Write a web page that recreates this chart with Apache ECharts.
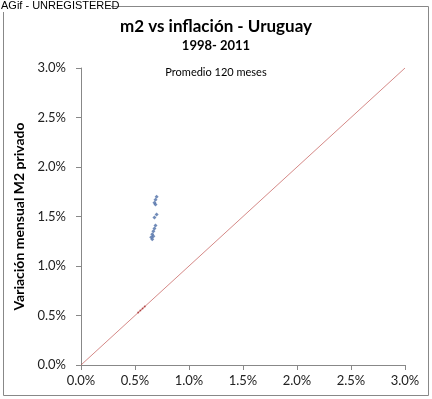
<!DOCTYPE html>
<html>
<head>
<meta charset="utf-8">
<script src="https://cdn.jsdelivr.net/npm/echarts@6/dist/echarts.min.js"></script>
<style>
  html, body { margin: 0; padding: 0; background: #fff; }
  #main { width: 432px; height: 399px; }
</style>
</head>
<body>
<div id="main"></div>
<script>
var tickLabels = ['0.0%', '0.5%', '1.0%', '1.5%', '2.0%', '2.5%', '3.0%'];

// promedio movil de inflacion mensual (x) vs variacion mensual de M2 privado (y)
var inflacion = [0.0070, 0.0069, 0.0068, 0.0069, 0.0070, 0.0068, 0.0069, 0.0068, 0.0067, 0.0066, 0.0065, 0.0066, 0.0067];
var m2Privado = [0.0170, 0.0167, 0.0164, 0.0162, 0.0152, 0.0149, 0.0141, 0.0138, 0.0135, 0.0132, 0.0129, 0.0127, 0.0130];

// linea de referencia y = x
var lineaX = [0, 0.03];
var lineaY = [0, 0.03];

// inflacion contra si misma (puntos sobre la diagonal)
var inflX = [0.0053, 0.0055, 0.0057, 0.0059];
var inflY = [0.0053, 0.0055, 0.0057, 0.0059];

function zip(a, b) {
  var out = [];
  for (var i = 0; i < a.length; i++) out.push([a[i], b[i]]);
  return out;
}
function pct(v) {
  return tickLabels[Math.round(v / 0.005)] || (v * 100).toFixed(1) + '%';
}

var myChart = echarts.init(document.getElementById('main'));
var font = 'Lato, "Open Sans", sans-serif';

var option = {
  backgroundColor: '#fff',
  animation: false,
  title: [{
    text: 'm2 vs inflación - Uruguay',
    left: 'center', top: 13,
    textStyle: { fontFamily: font, fontSize: 17, fontWeight: 'bold', color: '#000' }
  }, {
    text: '1998- 2011',
    left: 'center', top: 34,
    textStyle: { fontFamily: font, fontSize: 13, fontWeight: 'bold', color: '#000' }
  }, {
    text: 'Promedio 120 meses',
    left: 'center', top: 62,
    textStyle: { fontFamily: font, fontSize: 11, fontWeight: 'normal', color: '#000' }
  }],
  graphic: [{
    type: 'rect',
    shape: { x: 3.5, y: 6.5, width: 425, height: 389 },
    style: { fill: 'none', stroke: '#888', lineWidth: 1 },
    z: -1
  }, {
    type: 'rect',
    shape: { x: 0, y: 0, width: 111, height: 12 },
    style: { fill: '#fff' }
  }, {
    type: 'text',
    left: 1, top: 0,
    style: { text: 'AGif - UNREGISTERED', font: '11px "Liberation Sans", Arial, sans-serif', fill: '#000' }
  }],
  grid: { left: 81, top: 68, width: 324, height: 297 },
  xAxis: {
    type: 'value', min: 0, max: 0.03, interval: 0.005,
    axisLine: { show: true, lineStyle: { color: '#888' } },
    axisTick: { show: true, length: 5, lineStyle: { color: '#888' } },
    splitLine: { show: false },
    axisLabel: { formatter: pct, fontFamily: font, fontSize: 13, color: '#222', margin: 9 }
  },
  yAxis: {
    type: 'value', min: 0, max: 0.03, interval: 0.005,
    name: 'Variación mensual M2 privado',
    nameLocation: 'middle', nameGap: 47, nameRotate: 90,
    nameTextStyle: { fontFamily: font, fontSize: 14, fontWeight: 'bold', color: '#000' },
    axisLine: { show: true, lineStyle: { color: '#888' } },
    axisTick: { show: true, length: 5, lineStyle: { color: '#888' } },
    splitLine: { show: false },
    axisLabel: { formatter: pct, fontFamily: font, fontSize: 13, color: '#222', margin: 15 }
  },
  series: [{
    type: 'line',
    data: zip(lineaX, lineaY),
    symbol: 'none',
    lineStyle: { color: '#c0504d', width: 0.8, opacity: 0.85 },
    z: 1
  }, {
    type: 'scatter',
    data: zip(inflX, inflY),
    symbol: 'circle', symbolSize: 2,
    itemStyle: { color: '#a83030', opacity: 0.8 },
    z: 2
  }, {
    type: 'scatter',
    data: zip(inflacion, m2Privado),
    symbol: 'diamond', symbolSize: 4,
    itemStyle: { color: '#4f6fa8' },
    z: 3
  }]
};

myChart.setOption(option);
</script>
</body>
</html>
